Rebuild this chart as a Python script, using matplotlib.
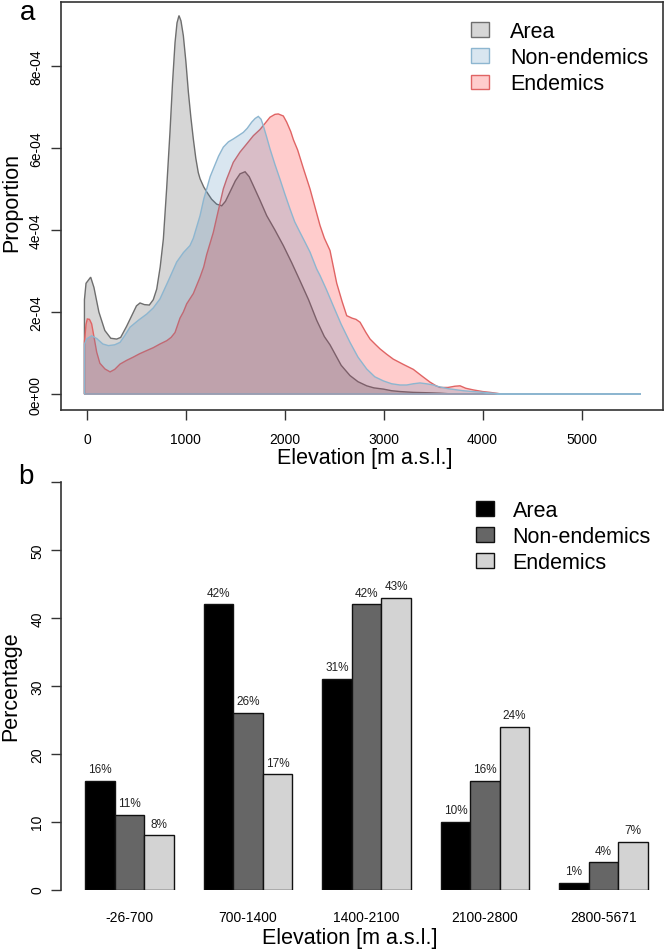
import matplotlib
matplotlib.use("Agg")
import matplotlib.pyplot as plt
from matplotlib.patches import Patch
import numpy as np

plt.rcParams['font.family'] = ['Liberation Sans', 'DejaVu Sans']

W, H = 665, 953

# ---- panel a: elevation densities (values in 1e-4) ----
area_elev = [-26, -26, -10, 37, 70, 120, 180, 240, 300, 340, 400, 460, 500, 536, 580, 630,
             670, 705, 740, 772, 805, 839, 865, 890, 910, 930, 950, 974, 1000, 1025, 1050,
             1075, 1100, 1125, 1143, 1180, 1210, 1260, 1311, 1362, 1400, 1446, 1500, 1547,
             1598, 1640, 1682, 1750, 1817, 1900, 1985, 2070, 2154, 2240, 2322, 2400, 2457,
             2570, 2659, 2740, 2828, 2900, 2996, 3080, 3165, 3300, 3450, 3570, 3700, 5600]
area_dens = [0, 2.3, 2.7, 2.85, 2.6, 2.0, 1.55, 1.36, 1.34, 1.38, 1.65, 1.95, 2.15, 2.22, 2.18,
             2.17, 2.3, 2.56, 3.1, 3.78, 5.0, 6.39, 7.6, 8.57, 9.05, 9.23, 9.1, 8.74, 8.1, 7.36,
             6.75, 6.22, 5.75, 5.4, 5.25, 5.05, 4.93, 4.75, 4.63, 4.59, 4.7, 4.93, 5.2, 5.37,
             5.42, 5.3, 5.08, 4.72, 4.35, 4.0, 3.62, 3.2, 2.76, 2.3, 1.8, 1.4, 1.2,
             0.7, 0.45, 0.3, 0.2, 0.15, 0.12, 0.08, 0.06, 0.04, 0.03, 0.02, 0.0, 0.0]

nonend_elev = [-26, -26, 0, 47, 100, 160, 216, 280, 334, 380, 435, 520, 604, 670, 738, 820,
               907, 975, 1041, 1075, 1143, 1180, 1210, 1245, 1277, 1330, 1378, 1430, 1479,
               1530, 1580, 1620, 1665, 1700, 1732, 1760, 1783, 1815, 1850, 1900, 1951, 2000,
               2053, 2100, 2154, 2205, 2255, 2322, 2356, 2420, 2490, 2570, 2659, 2740, 2828,
               2910, 2996, 3080, 3165, 3233, 3300, 3367, 3430, 3503, 3536, 3650, 3805, 3900,
               4007, 4100, 4200, 5600]
nonend_dens = [0, 1.22, 1.35, 1.42, 1.35, 1.22, 1.18, 1.2, 1.26, 1.42, 1.63, 1.8, 1.95, 2.1,
               2.32, 2.75, 3.22, 3.45, 3.62, 3.8, 4.35, 4.75, 5.0, 5.3, 5.49, 5.8, 6.02, 6.15,
               6.22, 6.3, 6.38, 6.48, 6.63, 6.72, 6.77, 6.7, 6.54, 6.28, 5.98, 5.6, 5.24, 4.88,
               4.51, 4.2, 3.94, 3.7, 3.46, 3.05, 2.89, 2.55, 2.15, 1.7, 1.26, 0.9, 0.61, 0.42,
               0.32, 0.25, 0.22, 0.22, 0.25, 0.27, 0.25, 0.22, 0.19, 0.13, 0.08, 0.06, 0.04,
               0.02, 0.0, 0.0]

end_elev = [-26, -26, -10, 3, 25, 47, 70, 98, 130, 182, 233, 280, 334, 400, 468, 530, 604,
            670, 738, 806, 850, 890, 940, 974, 1008, 1075, 1143, 1180, 1210, 1277, 1311, 1378,
            1412, 1479, 1547, 1615, 1682, 1749, 1800, 1850, 1900, 1934, 1985, 2019, 2060, 2087,
            2130, 2188, 2255, 2289, 2356, 2400, 2457, 2525, 2580, 2626, 2680, 2720, 2761, 2820,
            2862, 2920, 2963, 3030, 3097, 3200, 3300, 3380, 3468, 3530, 3570, 3650, 3720, 3772,
            3830, 3906, 4000, 4075, 4193, 5600]
end_dens = [0, 1.27, 1.7, 1.83, 1.82, 1.71, 1.4, 1.02, 0.75, 0.61, 0.54, 0.6, 0.73, 0.82, 0.9,
            0.98, 1.06, 1.13, 1.22, 1.3, 1.38, 1.5, 1.85, 2.0, 2.2, 2.45, 2.85, 3.1, 3.4, 3.94,
            4.3, 5.0, 5.24, 5.65, 5.9, 6.1, 6.3, 6.45, 6.6, 6.75, 6.82, 6.83, 6.78, 6.63, 6.4,
            6.2, 5.95, 5.5, 5.0, 4.7, 4.11, 3.8, 3.5, 2.7, 2.25, 1.91, 1.85, 1.82, 1.75, 1.5,
            1.34, 1.2, 1.1, 0.97, 0.85, 0.72, 0.6, 0.45, 0.29, 0.2, 0.16, 0.16, 0.19, 0.2, 0.14,
            0.1, 0.06, 0.04, 0.0, 0.0]

# ---- panel b: percentage per elevation band ----
bands = ["-26-700", "700-1400", "1400-2100", "2100-2800", "2800-5671"]
pct_area = [16, 42, 31, 10, 1]
pct_nonend = [11, 26, 42, 16, 4]
pct_end = [8, 17, 43, 24, 7]

series = ["Area", "Non-endemics", "Endemics"]
bar_cols = ["#000000", "#666666", "#D3D3D3"]


def fig_rect(left, top, right, bottom):
    return [left / W, 1 - bottom / H, (right - left) / W, (bottom - top) / H]


fig = plt.figure(figsize=(W / 100, H / 100), dpi=100)

# ===== panel a =====
ax = fig.add_axes(fig_rect(61, 3, 663, 411))
fills = [
    (area_elev, area_dens, (0.745, 0.745, 0.745, 0.62), "#6E6E6E"),
    (end_elev, end_dens, (1.0, 0.0, 0.0, 0.2), "#E06464"),
    (nonend_elev, nonend_dens, (0.27, 0.51, 0.71, 0.2), "#8DB6D0"),
]
for xs, ys, fc, ec in fills:
    ax.fill(xs, np.array(ys) * 1e-4, facecolor=fc, edgecolor=ec, linewidth=1.0)

ax.set_xlim(-263, 5824)
ax.set_ylim(-0.39e-4, 9.56e-4)
ax.set_xticks([0, 1000, 2000, 3000, 4000, 5000])
ax.set_yticks([0, 2e-4, 4e-4, 6e-4, 8e-4])
ax.set_yticklabels(["0e+00", "2e-04", "4e-04", "6e-04", "8e-04"])
ax.tick_params(axis='both', direction='out', length=7, width=1, labelsize=10, color='#333333')
ax.tick_params(axis='x', pad=9)
ax.tick_params(axis='y', pad=6, labelrotation=90)
for lab in ax.get_yticklabels():
    lab.set_va('center')
for s in ax.spines.values():
    s.set_linewidth(1.2)
    s.set_color('#333333')

ax.set_xlabel("Elevation [m a.s.l.]", fontsize=15.5)
ax.xaxis.set_label_coords((365 - 61) / 602, (411 - 459) / 408)
ax.xaxis.label.set_va('center')
ax.set_ylabel("Proportion", fontsize=15.5)
ax.yaxis.set_label_coords((12 - 61) / 602, (411 - 203) / 408)
ax.yaxis.label.set_va('center')

leg_a = [Patch(facecolor=f[2], edgecolor=f[3]) for f in fills]
leg_a = [leg_a[0], leg_a[2], leg_a[1]]
ax.legend(leg_a, series, loc='upper left', bbox_to_anchor=((471 - 61) / 602, (411 - 22) / 408),
          frameon=False, fontsize=15.5, handlelength=0.85, handleheight=0.65,
          handletextpad=0.95, labelspacing=0.24, borderpad=0, borderaxespad=0)

fig.text(20 / W, 1 - 13 / H, "a", fontsize=20, va='center', ha='left')

# ===== panel b =====
bx = fig.add_axes(fig_rect(61, 470, 665, 890.5))
bx.set_xlim(1 - 24 / 29.63, 1 + 580 / 29.63)
bx.set_ylim(0, (890.5 - 470) / 6.79)

for j, vals in enumerate([pct_area, pct_nonend, pct_end]):
    xs = [1 + 4 * i + j for i in range(len(bands))]
    bx.bar(xs, vals, width=1.0, align='edge', color=bar_cols[j],
           edgecolor='#111111', linewidth=1.0, label=series[j])
    for x0, v in zip(xs, vals):
        bx.annotate(f"{v}%", (x0 + 0.5, v), xytext=(0, 4), textcoords='offset points',
                    ha='center', va='bottom', fontsize=8.5, color='#222222')

bx.set_xticks([2.5 + 4 * i for i in range(len(bands))])
bx.set_xticklabels(bands)
bx.set_yticks([0, 10, 20, 30, 40, 50, 60])
bx.set_yticklabels(["0", "10", "20", "30", "40", "50", ""])
bx.tick_params(axis='x', length=0, pad=14.5, labelsize=10)
bx.tick_params(axis='y', direction='out', length=7, width=1, labelsize=10, pad=5,
               labelrotation=90, color='#333333')
for lab in bx.get_yticklabels():
    lab.set_va('center')
for side in ['top', 'right', 'bottom']:
    bx.spines[side].set_visible(False)
bx.spines['left'].set_bounds(0, 60)
bx.spines['left'].set_linewidth(1.2)
bx.spines['left'].set_color('#333333')

bx.set_xlabel("Elevation [m a.s.l.]", fontsize=15.5)
bx.xaxis.set_label_coords((350 - 61) / 604, (890.5 - 939) / 420.5)
bx.xaxis.label.set_va('center')
bx.set_ylabel("Percentage", fontsize=15.5)
bx.yaxis.set_label_coords((11 - 61) / 604, (890.5 - 686) / 420.5)
bx.yaxis.label.set_va('center')

bx.legend(loc='upper left', bbox_to_anchor=((476 - 61) / 604, (890.5 - 501) / 420.5),
          frameon=False, fontsize=15.5, handlelength=0.85, handleheight=0.7,
          handletextpad=0.85, labelspacing=0.24, borderpad=0, borderaxespad=0)

fig.text(18 / W, 1 - 477 / H, "b", fontsize=20, va='center', ha='left')

fig.savefig("out.png", dpi=100)
